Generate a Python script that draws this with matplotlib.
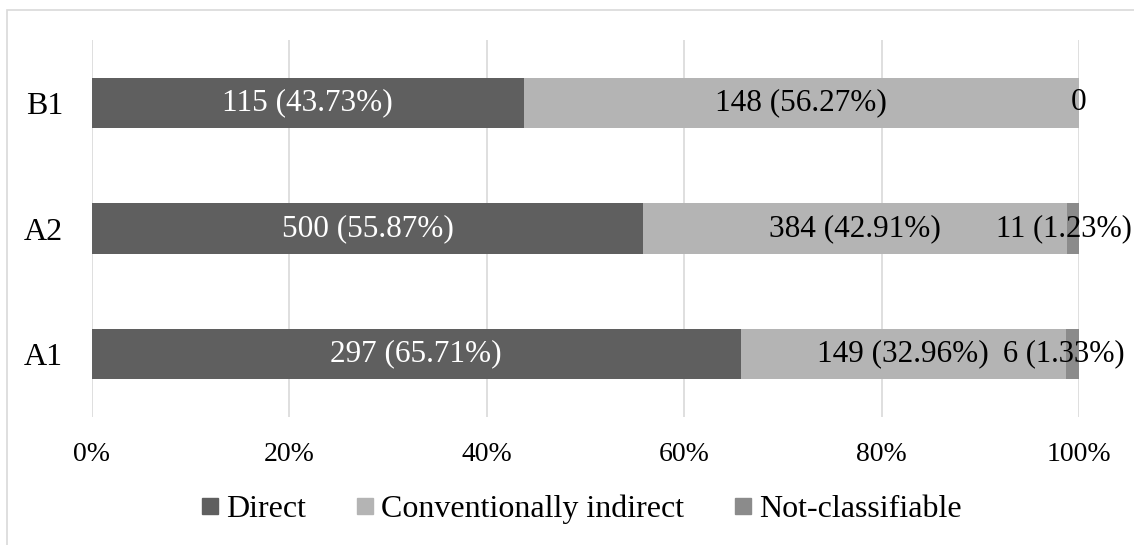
import matplotlib
matplotlib.use('Agg')
import matplotlib.pyplot as plt
from matplotlib.patches import Rectangle
from matplotlib.lines import Line2D

plt.rcParams['font.family'] = ['Liberation Serif', 'DejaVu Serif']

# Data
categories = ['A1', 'A2', 'B1']
series_names = ['Direct', 'Conventionally indirect', 'Not-classifiable']
direct = [297, 500, 115]
indirect = [149, 384, 148]
notclass = [6, 11, 0]
pct_direct = [65.71, 55.87, 43.73]
pct_indirect = [32.96, 42.91, 56.27]
pct_notclass = [1.33, 1.23, 0.0]
xticks = [0, 20, 40, 60, 80, 100]

colors = ['#5f5f5f', '#b4b4b4', '#8b8b8b']
label_colors = ['white', 'black', 'black']

fig = plt.figure(figsize=(11.34, 5.45), dpi=100)
W, H = 1134, 545
ax = fig.add_axes([92 / W, 1 - 417 / H, (1079 - 92) / W, (417 - 40) / H])

# outer chart frame (clipped at right/bottom as in the original)
fig.patches.append(Rectangle((7 / W, -0.1), 1.2, 1 - 10 / H + 0.1,
                             transform=fig.transFigure, fill=False,
                             edgecolor='#d9d9d9', lw=1.2))

counts = [direct, indirect, notclass]
pcts = [pct_direct, pct_indirect, pct_notclass]
y = range(len(categories))
left = [0] * len(categories)
for i in range(3):
    widths = pcts[i]
    ax.barh(y, widths, left=left, height=0.4, color=colors[i],
            label=series_names[i], zorder=2)
    for j in y:
        c = counts[i][j]
        txt = '0' if c == 0 else f'{c} ({pcts[i][j]:.2f}%)'
        # last series sits on the right edge; nudge it a little inwards
        edge = i == 2 and c
        xpos = left[j] + widths[j] / 2 - (0.9 if edge else 0)
        ax.text(xpos, j, txt, ha='center', va='center',
                color=label_colors[i], fontsize=22 if edge else 22.5, zorder=3)
    left = [l + w for l, w in zip(left, widths)]

ax.set_xlim(0, 100)
ax.set_ylim(-0.5, 2.5)
ax.set_xticks(xticks)
ax.set_xticklabels([f'{t}%' for t in xticks], fontsize=20)
ax.set_yticks(list(y))
ax.set_yticklabels(categories, fontsize=23)
ax.tick_params(length=0)
ax.tick_params(axis='x', pad=18)
ax.tick_params(axis='y', pad=21)
ax.grid(axis='x', color='#d9d9d9', lw=1.2, zorder=0)
for s in ax.spines.values():
    s.set_visible(False)

handles = [Line2D([], [], marker='s', ls='', markersize=11, color=c) for c in colors]
fig.legend(handles, series_names, loc='center', bbox_to_anchor=(0.513, 1 - 509 / H),
           ncol=3, frameon=False, fontsize=23, handletextpad=0.25,
           columnspacing=1.6, handlelength=0.5, borderpad=0)

fig.savefig('out.png', dpi=100)
